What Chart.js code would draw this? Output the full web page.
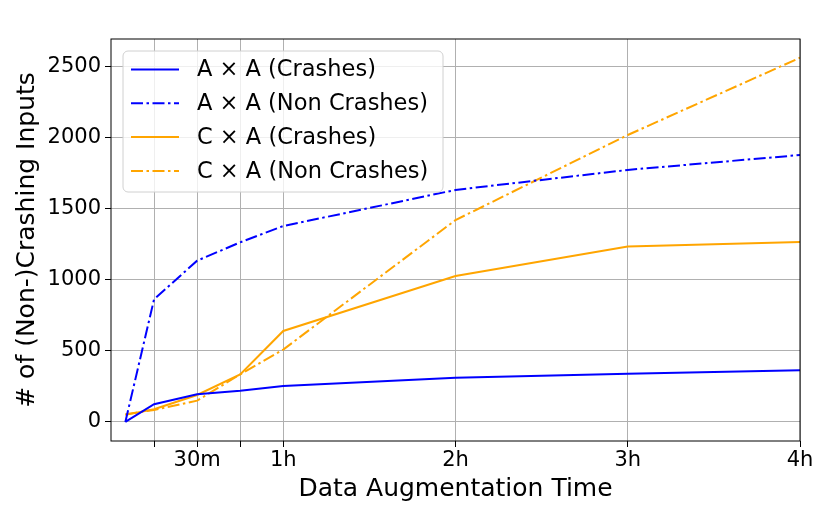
<!DOCTYPE html>
<html>
<head>
<meta charset="utf-8">
<script src="https://cdn.jsdelivr.net/npm/chart.js@4.4.1/dist/chart.umd.min.js"></script>
<style>html,body{margin:0;background:#fff}</style>
</head>
<body>
<div style="width:830px;height:519px"><canvas id="grafico"></canvas></div>
<script>
// minutes of data augmentation
const minutos = [5, 15, 30, 45, 60, 120, 180, 240];
const aaCrashes = [0, 125, 195, 220, 253, 312, 340, 365];
const aaNonCrashes = [0, 864, 1136, 1265, 1380, 1634, 1775, 1880];
const caCrashes = [50, 90, 190, 335, 641, 1028, 1235, 1268];
const caNonCrashes = [55, 85, 150, 335, 510, 1422, 2021, 2565];
const xTicks = [15, 30, 45, 60, 120, 180, 240];
const xTickLabels = ['', '30m', '', '1h', '2h', '3h', '4h'];
const yTicks = [0, 500, 1000, 1500, 2000, 2500];
const legendas = ['A \u00d7 A (Crashes)', 'A \u00d7 A (Non Crashes)', 'C \u00d7 A (Crashes)', 'C \u00d7 A (Non Crashes)'];

const AZUL = '#0000ff';
const LARANJA = '#ffa500';
const TRACO = [12, 3.5, 2.5, 3.5];
const FONTE = "'DejaVu Sans', sans-serif";

function serie(label, valores, cor, tracejado) {
  return {
    label: label,
    data: minutos.map((m, i) => ({ x: m, y: valores[i] })),
    borderColor: cor,
    borderWidth: 2,
    borderDash: tracejado ? TRACO : [],
    pointRadius: 0,
    fill: false,
    tension: 0
  };
}

const moldura = {
  id: 'moldura',
  afterDatasetsDraw(chart) {
    const { ctx, chartArea: a } = chart;
    ctx.save();
    // legend box
    const bx = 123, by = 51, bw = 320, bh = 141, r = 5;
    ctx.beginPath();
    ctx.roundRect(bx, by, bw, bh, r);
    ctx.fillStyle = 'rgba(255,255,255,0.8)';
    ctx.fill();
    ctx.strokeStyle = '#d0d0d0';
    ctx.lineWidth = 1;
    ctx.stroke();
    const cores = [AZUL, AZUL, LARANJA, LARANJA];
    ctx.font = '22.5px ' + FONTE;
    ctx.textBaseline = 'middle';
    ctx.fillStyle = '#000';
    legendas.forEach((txt, i) => {
      const y = 69.5 + i * 33.8;
      ctx.beginPath();
      ctx.setLineDash(i % 2 ? TRACO : []);
      ctx.strokeStyle = cores[i];
      ctx.lineWidth = 2;
      ctx.moveTo(131, y);
      ctx.lineTo(179, y);
      ctx.stroke();
      ctx.fillText(txt, 197, y + 1);
    });
    ctx.setLineDash([]);
    // frame
    ctx.strokeStyle = '#000';
    ctx.lineWidth = 1;
    ctx.strokeRect(a.left, a.top, a.right - a.left, a.bottom - a.top);
    ctx.restore();
  }
};

new Chart(document.getElementById('grafico').getContext('2d'), {
  type: 'line',
  data: {
    datasets: [
      serie(legendas[0], aaCrashes, AZUL, false),
      serie(legendas[1], aaNonCrashes, AZUL, true),
      serie(legendas[2], caCrashes, LARANJA, false),
      serie(legendas[3], caNonCrashes, LARANJA, true)
    ]
  },
  options: {
    responsive: true,
    maintainAspectRatio: false,
    animation: false,
    layout: { padding: { top: 39, right: 30, left: 0, bottom: 0 } },
    plugins: { legend: { display: false }, tooltip: { enabled: false } },
    scales: {
      x: {
        type: 'linear',
        min: 0,
        max: 240,
        afterBuildTicks: s => { s.ticks = xTicks.map(v => ({ value: v })); },
        afterFit: s => { s.height = 78; },
        grid: { color: '#b0b0b0', lineWidth: 1, tickColor: '#000', tickLength: 6 },
        border: { display: false },
        ticks: {
          color: '#000',
          font: { family: FONTE, size: 21 },
          padding: 1,
          maxRotation: 0,
          autoSkip: false,
          callback: (v) => xTickLabels[xTicks.indexOf(v)]
        },
        title: { display: true, text: 'Data Augmentation Time', color: '#000', font: { family: FONTE, size: 25 }, padding: { top: 0, bottom: 15 } }
      },
      y: {
        min: -134,
        max: 2697,
        afterBuildTicks: s => { s.ticks = yTicks.map(v => ({ value: v })); },
        afterFit: s => { s.width = 111; },
        grid: { color: '#b0b0b0', lineWidth: 1, tickColor: '#000', tickLength: 6 },
        border: { display: false },
        ticks: {
          color: '#000',
          font: { family: FONTE, size: 21 },
          padding: 4,
          callback: v => String(v)
        },
        title: { display: true, text: '# of (Non-)Crashing Inputs', color: '#000', font: { family: FONTE, size: 25 }, padding: { top: 12, bottom: 0 } }
      }
    }
  },
  plugins: [moldura]
});
</script>
</body>
</html>
